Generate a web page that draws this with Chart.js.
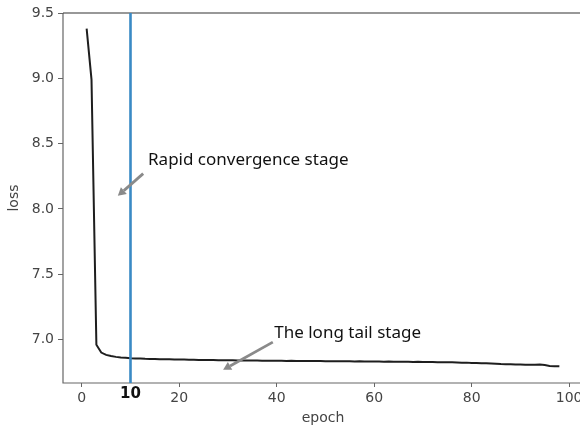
<!DOCTYPE html>
<html>
<head>
<meta charset="utf-8">
<script src="https://cdn.jsdelivr.net/npm/chart.js@4.4.1/dist/chart.umd.min.js"></script>
<style>
  html, body { margin: 0; padding: 0; background: #fff; overflow: hidden; width: 580px; height: 429px; }
  #wrap { width: 580px; height: 429px; overflow: hidden; position: relative; }
  #lossChart { position: absolute; left: 0; top: 0; }
</style>
</head>
<body>
<div id="wrap"><canvas id="lossChart" width="640" height="429"></canvas></div>
<script>
// loss curve, epochs 1..98
const epochs = [
  1, 2, 3, 4, 5, 6, 7, 8, 9, 10, 11, 12, 13, 14, 15, 16, 17, 18, 19, 20,
  21, 22, 23, 24, 25, 26, 27, 28, 29, 30, 31, 32, 33, 34, 35, 36, 37, 38, 39, 40,
  41, 42, 43, 44, 45, 46, 47, 48, 49, 50, 51, 52, 53, 54, 55, 56, 57, 58, 59, 60,
  61, 62, 63, 64, 65, 66, 67, 68, 69, 70, 71, 72, 73, 74, 75, 76, 77, 78, 79, 80,
  81, 82, 83, 84, 85, 86, 87, 88, 89, 90, 91, 92, 93, 94, 95, 96, 97, 98
];
const loss = [
  9.38, 8.99, 6.96, 6.900, 6.882, 6.873, 6.867, 6.863, 6.860, 6.857,
  6.855, 6.854, 6.852, 6.851, 6.850, 6.849, 6.848, 6.848, 6.847, 6.846,
  6.846, 6.845, 6.845, 6.844, 6.844, 6.843, 6.843, 6.842, 6.842, 6.841,
  6.841, 6.840, 6.840, 6.840, 6.839, 6.839, 6.838, 6.838, 6.838, 6.837,
  6.837, 6.836, 6.837, 6.836, 6.836, 6.835, 6.836, 6.835, 6.835, 6.834,
  6.834, 6.834, 6.833, 6.834, 6.833, 6.832, 6.833, 6.832, 6.832, 6.831,
  6.831, 6.830, 6.831, 6.830, 6.829, 6.830, 6.829, 6.828, 6.829, 6.828,
  6.827, 6.827, 6.826, 6.826, 6.825, 6.825, 6.824, 6.823, 6.823, 6.821,
  6.820, 6.819, 6.818, 6.816, 6.814, 6.812, 6.811, 6.810, 6.809, 6.808,
  6.807, 6.806, 6.806, 6.808, 6.804, 6.798, 6.796, 6.795
];

const xTicks = [0, 20, 40, 60, 80, 100];
const yTicks = [7.0, 7.5, 8.0, 8.5, 9.0, 9.5];
const markEpoch = 10;

// annotations: text anchor and arrow (from -> to) in data units
const notes = [
  { text: "Rapid convergence stage", at: [13.6, 8.374], from: [12.6, 8.27], to: [7.4, 8.10] },
  { text: "The long tail stage", at: [39.5, 7.05], from: [39.2, 6.98], to: [29.0, 6.768] }
];

const axisColor = "#666";
const tickFont = { family: "DejaVu Sans", size: 14 };

const extras = {
  id: "extras",
  afterDatasetsDraw(chart) {
    const { ctx, chartArea: a, scales: { x, y } } = chart;
    ctx.save();
    // spines: left, bottom, top (the right one falls outside the picture)
    ctx.lineWidth = 1.2;
    ctx.strokeStyle = axisColor;
    ctx.beginPath();
    ctx.moveTo(a.left, a.top);
    ctx.lineTo(a.left, a.bottom);
    ctx.lineTo(a.right, a.bottom);
    ctx.stroke();
    ctx.strokeStyle = "#333";
    ctx.beginPath();
    ctx.moveTo(a.left, a.top);
    ctx.lineTo(a.right, a.top);
    ctx.stroke();

    // vertical marker
    const mx = x.getPixelForValue(markEpoch);
    ctx.strokeStyle = "#3a8ac5";
    ctx.lineWidth = 2.6;
    ctx.beginPath();
    ctx.moveTo(mx, a.top);
    ctx.lineTo(mx, a.bottom);
    ctx.stroke();

    // bold tick label under the marker
    ctx.fillStyle = "#111";
    ctx.font = "bold 15px 'DejaVu Sans'";
    ctx.textAlign = "center";
    ctx.textBaseline = "middle";
    ctx.fillText(String(markEpoch), mx, a.bottom + 11);

    // annotations
    notes.forEach(n => {
      ctx.fillStyle = "#111";
      ctx.font = "17px 'Noto Sans'";
      ctx.textAlign = "left";
      ctx.textBaseline = "middle";
      ctx.fillText(n.text, x.getPixelForValue(n.at[0]), y.getPixelForValue(n.at[1]));

      const x0 = x.getPixelForValue(n.from[0]), y0 = y.getPixelForValue(n.from[1]);
      const x1 = x.getPixelForValue(n.to[0]), y1 = y.getPixelForValue(n.to[1]);
      const ang = Math.atan2(y1 - y0, x1 - x0);
      const head = 8, hw = 4.5;
      const bx = x1 - head * Math.cos(ang), by = y1 - head * Math.sin(ang);
      ctx.strokeStyle = "#8a8a8a";
      ctx.fillStyle = "#8a8a8a";
      ctx.lineWidth = 2.8;
      ctx.beginPath();
      ctx.moveTo(x0, y0);
      ctx.lineTo(bx, by);
      ctx.stroke();
      ctx.beginPath();
      ctx.moveTo(x1, y1);
      ctx.lineTo(bx + hw * Math.sin(ang), by - hw * Math.cos(ang));
      ctx.lineTo(bx - hw * Math.sin(ang), by + hw * Math.cos(ang));
      ctx.closePath();
      ctx.fill();
    });
    ctx.restore();
  }
};

new Chart(document.getElementById("lossChart"), {
  type: "line",
  data: {
    datasets: [{
      data: epochs.map((e, i) => ({ x: e, y: loss[i] })),
      borderColor: "#1e1e1e",
      borderWidth: 2,
      pointRadius: 0,
      tension: 0,
      fill: false
    }]
  },
  options: {
    responsive: false,
    animation: false,
    layout: { padding: { top: 13, right: 57, left: 0, bottom: 0 } },
    plugins: { legend: { display: false }, tooltip: { enabled: false } },
    scales: {
      x: {
        type: "linear",
        min: -3.85,
        max: 102.85,
        afterFit: s => { s.height = 46; },
        afterBuildTicks: s => { s.ticks = xTicks.map(v => ({ value: v })); },
        grid: { drawOnChartArea: false, tickLength: 4, color: axisColor, tickWidth: 1 },
        border: { display: false },
        ticks: { color: "#444", font: tickFont, padding: 3, maxRotation: 0 },
        title: { display: true, text: "epoch", color: "#444", font: tickFont, padding: { top: 0, bottom: 2 } }
      },
      y: {
        min: 6.667,
        max: 9.5,
        afterFit: s => { s.width = 63; },
        afterBuildTicks: s => { s.ticks = yTicks.map(v => ({ value: v })); },
        grid: { drawOnChartArea: false, tickLength: 5, color: axisColor, tickWidth: 1 },
        border: { display: false },
        ticks: { color: "#444", font: tickFont, padding: 4, callback: v => v.toFixed(1) },
        title: { display: true, text: "loss", color: "#444", font: tickFont, padding: { top: 6, bottom: 0 } }
      }
    }
  },
  plugins: [extras]
});
</script>
</body>
</html>
